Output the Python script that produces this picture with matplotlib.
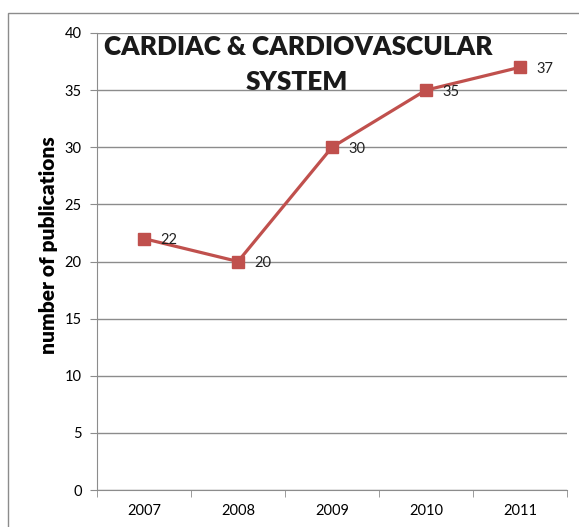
import matplotlib
matplotlib.use("Agg")
import matplotlib.pyplot as plt
from matplotlib.patches import Rectangle

years = ["2007", "2008", "2009", "2010", "2011"]
publications = [22, 20, 30, 35, 37]
yticks = [0, 5, 10, 15, 20, 25, 30, 35, 40]

plt.rcParams['font.family'] = ['Lato', 'DejaVu Sans']

W, H = 579, 527
fig = plt.figure(figsize=(W / 100, H / 100), dpi=100)

# outer chart border
fig.add_artist(Rectangle((8 / W, -0.05), 1.2, 1.05 - 13 / H, transform=fig.transFigure,
                         fill=False, edgecolor="#8c8c8c", linewidth=1.0))

ax = fig.add_axes([97 / W, 1 - 490 / H, (567 - 97) / W, (490 - 33) / H])
x = list(range(len(years)))
ax.plot(x, publications, color="#C0504D", linewidth=2.3, marker="s", markersize=9,
        markerfacecolor="#C0504D", markeredgecolor="#C0504D", zorder=3)
for xi, v in zip(x, publications):
    ax.annotate(str(v), (xi, v), xytext=(12, -1), textcoords="offset points",
                ha="left", va="center", fontsize=10.5, color="#222222")

ax.set_xlim(-0.5, len(years) - 0.5)
ax.set_ylim(0, 40)
ax.set_yticks(yticks)
ax.set_yticklabels([str(t) for t in yticks], fontsize=10.5)
ax.set_xticks(x)
ax.set_xticklabels(years, fontsize=10.5)
ax.set_xticks([i - 0.5 for i in range(len(years) + 1)], minor=True)
ax.tick_params(axis="x", which="major", length=0, pad=10)
ax.tick_params(axis="x", which="minor", length=5, color="#8c8c8c")
ax.tick_params(axis="y", length=5, color="#8c8c8c", pad=6)
ax.grid(axis="y", color="#8c8c8c", linewidth=1.0)
ax.set_axisbelow(True)
for s in ["top", "right"]:
    ax.spines[s].set_visible(False)
for s in ["left", "bottom"]:
    ax.spines[s].set_color("#8c8c8c")
ax.set_ylabel("number of publications", fontsize=15, fontweight="heavy")
ax.yaxis.set_label_coords(-0.084, 0.535)

fig.text(298 / W, 1 - 47 / H, "CARDIAC & CARDIOVASCULAR", ha="center", va="center",
         fontsize=18.8, fontweight="heavy", color="#1a1a1a")
fig.text(297 / W, 1 - 82 / H, "SYSTEM", ha="center", va="center",
         fontsize=18.8, fontweight="heavy", color="#1a1a1a")

fig.savefig("out.png", dpi=100)
